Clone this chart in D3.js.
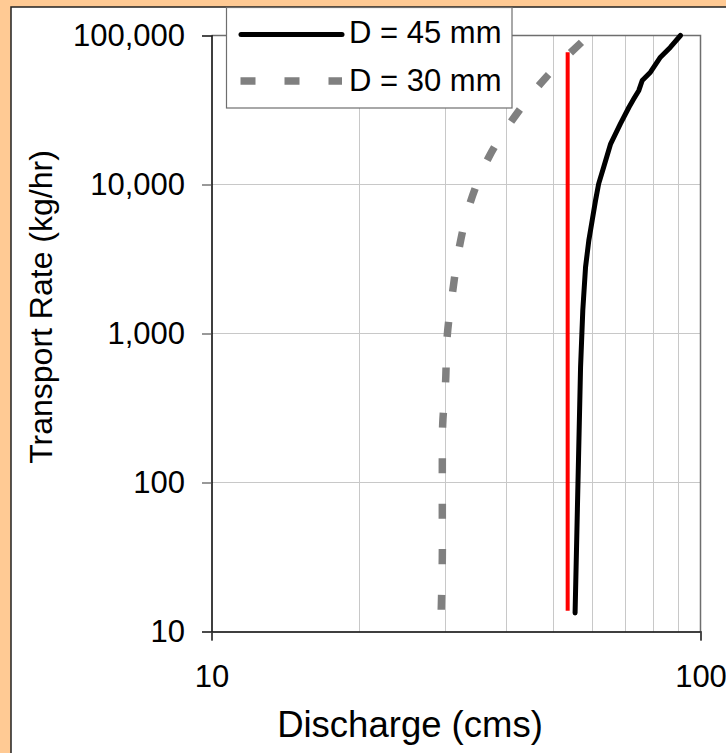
<!DOCTYPE html>
<html>
<head>
<meta charset="utf-8">
<script src="https://cdn.jsdelivr.net/npm/d3@7"></script>
<style>
  html, body { margin: 0; padding: 0; background: #ffca94; }
  svg { display: block; }
  text { font-family: "Liberation Sans", Arial, sans-serif; fill: #000; }
</style>
</head>
<body>
<svg id="chart" width="726" height="753"></svg>
<script>
// Sediment transport rate vs. discharge, two grain sizes
const d45Discharge = [55.4, 56.65, 56.85, 57.45, 58.2, 59.1, 60.05, 61.0, 61.9, 63.4, 65.5, 68.6, 71.4, 73.05, 74.8, 76.0, 79.0, 82.8, 86.8, 91.0];
const d45Rate      = [13.3, 355, 594, 1430, 2790, 4210, 5740, 7810, 10100, 13100, 18750, 25600, 33000, 37600, 42800, 49900, 56700, 71500, 83500, 100000];

const d30Discharge = [29.5, 29.65, 29.65, 29.65, 29.7, 30.1, 30.35, 31.15, 32.15, 33.75, 36.9, 41.85, 48.35, 59.1];
const d30Rate      = [14, 31.4, 62, 124, 245, 462, 970, 1945, 3855, 7420, 15240, 29050, 52500, 100000];

const refDischarge = [53.5, 53.5];
const refRate      = [13.8, 77300];

const seriesNames = ["D = 45 mm", "D = 30 mm"];
const xTicks = [10, 100];
const yTicks = [10, 100, 1000, 10000, 100000];
const xGrid  = [20, 30, 40, 50, 60, 70, 80, 90];
const yGrid  = [100, 1000, 10000];

const svg = d3.select("#chart");
const W = 726, H = 753;

// background panel
svg.append("rect").attr("x", 0).attr("y", 0).attr("width", W).attr("height", H).attr("fill", "#ffca94");
svg.append("rect").attr("x", 11).attr("y", 7).attr("width", 800).attr("height", 800)
  .attr("fill", "#fff").attr("stroke", "#222").attr("stroke-width", 1.5);

const x = d3.scaleLog().domain([10, 100]).range([211.5, 700.5]);
const y = d3.scaleLog().domain([10, 100000]).range([631.5, 35.5]);

// gridlines
const grid = svg.append("g").attr("stroke", "#c8c8c8").attr("stroke-width", 1);
grid.selectAll("line.v").data(xGrid).join("line")
  .attr("x1", d => Math.round(x(d)) + 0.5).attr("x2", d => Math.round(x(d)) + 0.5)
  .attr("y1", y(100000)).attr("y2", y(10));
grid.selectAll("line.h").data(yGrid).join("line")
  .attr("x1", x(10)).attr("x2", x(100))
  .attr("y1", d => y(d)).attr("y2", d => y(d));

// plot frame (top and right)
svg.append("path")
  .attr("d", `M${x(10)},${y(100000)}H${x(100)}V${y(10)}`)
  .attr("fill", "none").attr("stroke", "#6e6e6e").attr("stroke-width", 1.5);

const line = d3.line().x(d => x(d[0])).y(d => y(d[1]));
const smooth = d3.line().x(d => x(d[0])).y(d => y(d[1])).curve(d3.curveCatmullRom);

// D = 30 mm (dashed grey)
svg.append("path")
  .datum(d3.zip(d30Discharge, d30Rate))
  .attr("d", smooth)
  .attr("fill", "none").attr("stroke", "#808080").attr("stroke-width", 7.5)
  .attr("stroke-dasharray", "15,30.5").attr("stroke-linecap", "butt");

// reference discharge (red)
svg.append("path")
  .datum(d3.zip(refDischarge, refRate))
  .attr("d", line)
  .attr("fill", "none").attr("stroke", "#ff0000").attr("stroke-width", 4);

// D = 45 mm (solid black)
svg.append("path")
  .datum(d3.zip(d45Discharge, d45Rate))
  .attr("d", line)
  .attr("fill", "none").attr("stroke", "#000").attr("stroke-width", 5)
  .attr("stroke-linejoin", "round").attr("stroke-linecap", "round");

// axes
const yAxis = svg.append("g")
  .attr("transform", `translate(${x(10)},0)`)
  .call(d3.axisLeft(y).tickValues(yTicks).tickFormat(d3.format(",")).tickSize(9.5).tickPadding(17));
yAxis.select(".domain").attr("stroke", "#000").attr("stroke-width", 1.5);
yAxis.selectAll(".tick line").attr("stroke", "#555").attr("stroke-width", 1.2);
yAxis.selectAll(".tick text").attr("font-size", 31).attr("font-family", '"Liberation Sans", Arial, sans-serif').attr("fill", "#000");

const xAxis = svg.append("g")
  .attr("transform", `translate(0,${y(10)})`)
  .call(d3.axisBottom(x).tickValues(xTicks).tickFormat(d3.format("d")).tickSize(9).tickPadding(24));
xAxis.select(".domain").attr("stroke", "#000").attr("stroke-width", 1.5);
xAxis.selectAll(".tick line").attr("stroke", "#555").attr("stroke-width", 1.2);
xAxis.selectAll(".tick text").attr("font-size", 31).attr("font-family", '"Liberation Sans", Arial, sans-serif').attr("fill", "#000");

// axis titles
svg.append("text")
  .attr("x", 410).attr("y", 737)
  .attr("text-anchor", "middle").attr("font-size", 36.5)
  .text("Discharge (cms)");
svg.append("text")
  .attr("transform", "translate(52,307) rotate(-90)")
  .attr("text-anchor", "middle").attr("font-size", 32)
  .text("Transport Rate (kg/hr)");

// legend
const legend = svg.append("g");
legend.append("rect").attr("x", 226.5).attr("y", 7.5).attr("width", 285.5).attr("height", 100.5)
  .attr("fill", "#fff").attr("stroke", "#6e6e6e").attr("stroke-width", 1.2);
legend.append("line").attr("x1", 241).attr("x2", 342).attr("y1", 34.5).attr("y2", 34.5)
  .attr("stroke", "#000").attr("stroke-width", 5).attr("stroke-linecap", "round");
legend.append("line").attr("x1", 240.5).attr("x2", 342).attr("y1", 81).attr("y2", 81)
  .attr("stroke", "#808080").attr("stroke-width", 7.5).attr("stroke-dasharray", "15,29");
legend.selectAll("text.lab").data(seriesNames).join("text")
  .attr("class", "lab")
  .attr("x", 349).attr("y", (d, i) => i === 0 ? 42.5 : 90.5)
  .attr("font-size", 31)
  .text(d => d);
</script>
</body>
</html>
